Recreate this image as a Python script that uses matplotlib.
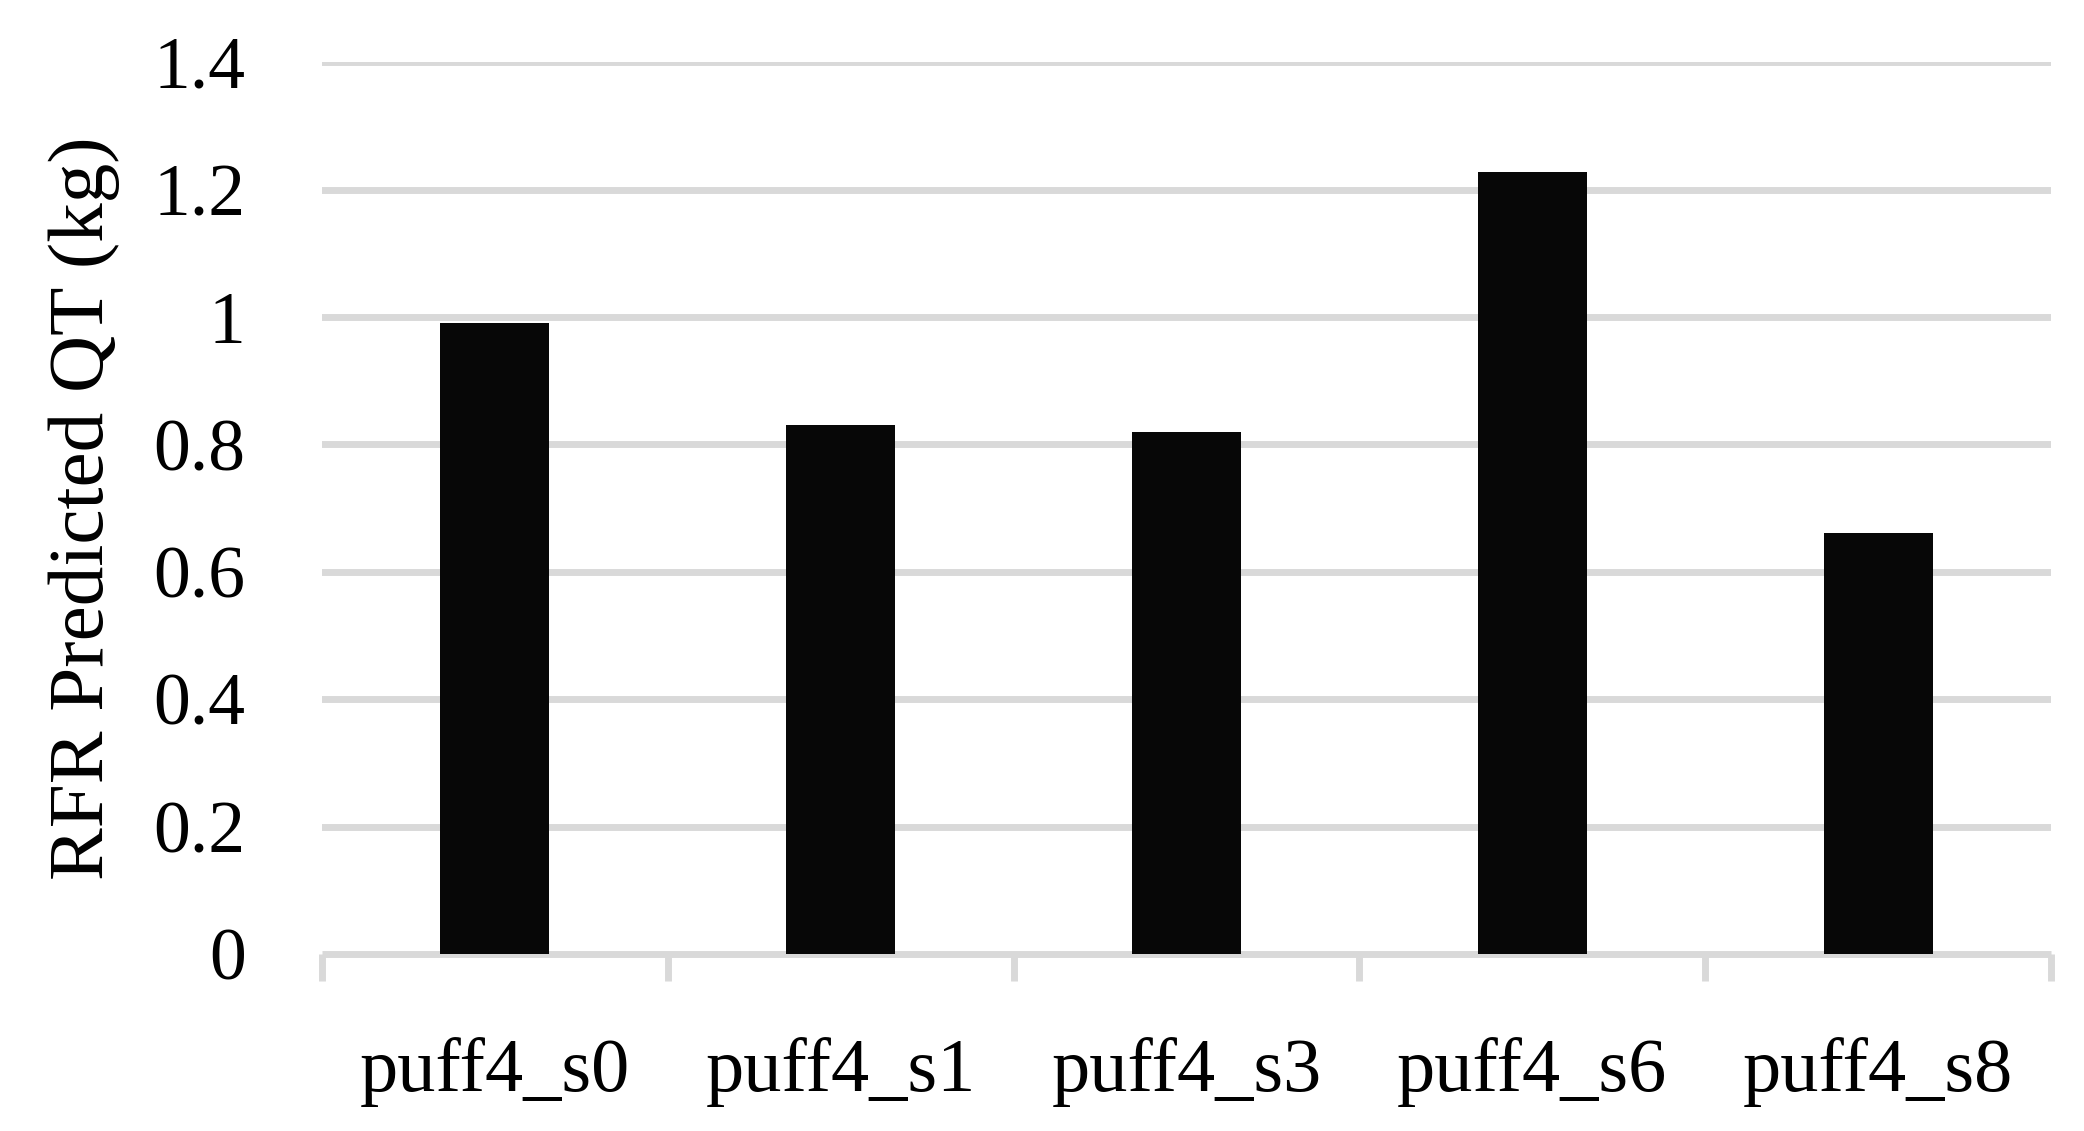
import numpy as np
import matplotlib
matplotlib.use("Agg")
import matplotlib.pyplot as plt

# data
samples = ['puff4_s0', 'puff4_s1', 'puff4_s3', 'puff4_s6', 'puff4_s8']
qt_pred = [0.99, 0.83, 0.82, 1.227, 0.661]
yticks = [0, 0.2, 0.4, 0.6, 0.8, 1.0, 1.2, 1.4]
ytick_labels = ['0', '0.2', '0.4', '0.6', '0.8', '1', '1.2', '1.4']

plt.rcParams['font.family'] = ['Liberation Serif', 'DejaVu Serif']
grid_col = '#d9d9d9'
lw = 5.0

fig = plt.figure(figsize=(20.84, 11.31), dpi=100)
ax = fig.add_axes([0.1545, 0.1565, 0.8297, 0.7885])

x = np.arange(len(samples))
ax.bar(x, qt_pred, width=0.315, color='#070707', zorder=3)

ax.set_xlim(-0.5, len(samples) - 0.5)
ax.set_ylim(0, 1.4)
ax.set_yticks(yticks)
ax.set_yticklabels(ytick_labels, fontsize=53)
ax.set_xticks(x)
ax.set_xticklabels(samples, fontsize=55)
ax.set_xticks(np.arange(len(samples) + 1) - 0.5, minor=True)

for v in yticks[1:]:
    ax.axhline(v, color=grid_col, lw=lw, zorder=1)

for s in ['top', 'right', 'left']:
    ax.spines[s].set_visible(False)
ax.spines['bottom'].set_color(grid_col)
ax.spines['bottom'].set_linewidth(lw)
ax.spines['bottom'].set_capstyle('butt')

ax.tick_params(axis='y', length=0, pad=55)
ax.tick_params(axis='x', which='major', length=0, pad=60)
ax.tick_params(axis='x', which='minor', length=19.5, width=lw, color=grid_col)

ax.set_ylabel('RFR Predicted QT (kg)', fontsize=57, labelpad=24)

fig.savefig('out.png', dpi=100, facecolor='white')
